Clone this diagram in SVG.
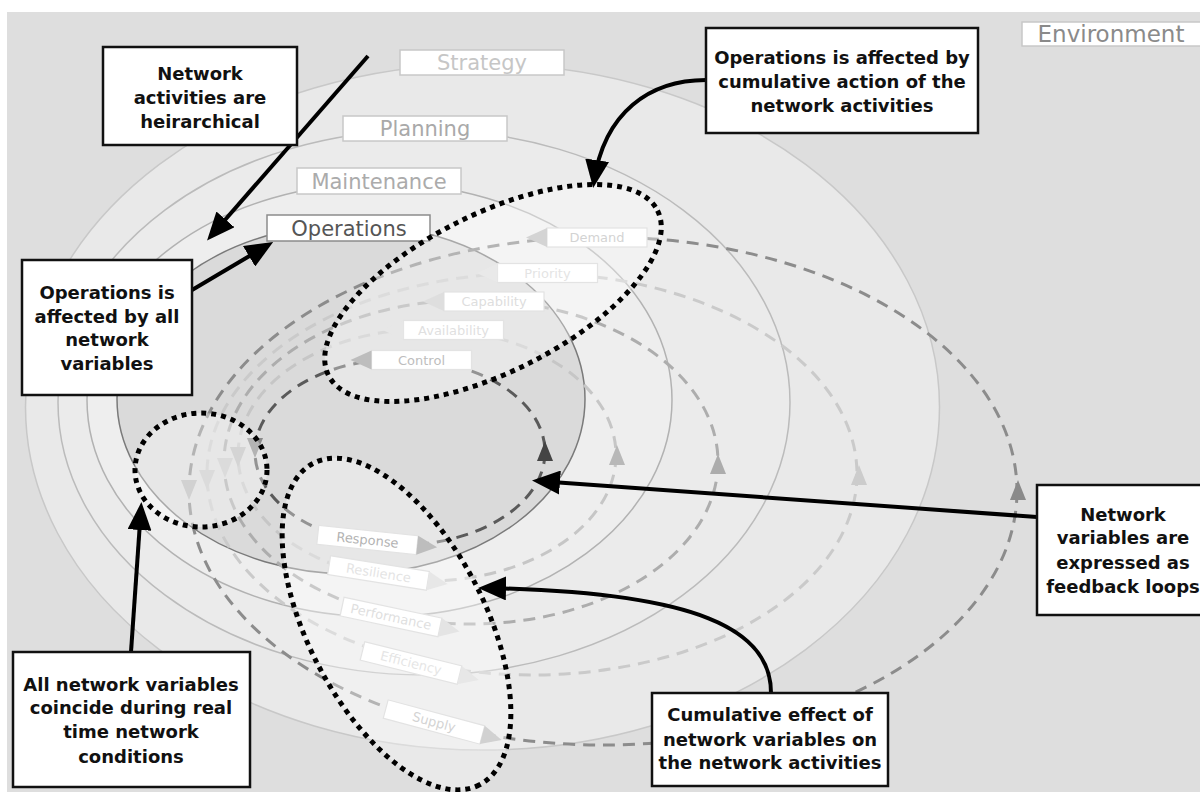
<svg xmlns="http://www.w3.org/2000/svg" width="1200" height="792" viewBox="0 0 1200 792">
  <style>
    .act { stroke-width: 1.5; }
    .actlbl rect { fill: #ffffff; stroke: #c8c8c8; stroke-width: 1.5; }
    .actlbl text { font-family: "DejaVu Sans", "Liberation Sans", sans-serif; font-size: 21px; text-anchor: middle; }
    .loop { fill: none; stroke-width: 3; stroke-dasharray: 12 8; }
    .var rect { fill: #ffffff; stroke: #d4d4d4; stroke-width: 1.2; }
    .var text { font-family: "DejaVu Sans", "Liberation Sans", sans-serif; font-size: 13px; text-anchor: middle; }
    .dotted { fill: #ffffff; fill-opacity: 0.35; stroke: #000000; stroke-width: 5; stroke-dasharray: 5 5; }
    .callout rect { fill: #ffffff; stroke: #111111; stroke-width: 2.5; }
    .callout text { font-family: "DejaVu Sans", "Liberation Sans", sans-serif; font-size: 18px; font-weight: bold; fill: #111111; text-anchor: middle; }
    .pointer { fill: none; stroke: #000000; stroke-width: 4; marker-end: url(#head); }
  </style>
  <defs>
    <marker id="head" markerUnits="userSpaceOnUse" markerWidth="28" markerHeight="24" viewBox="0 0 28 24" refX="22" refY="12" orient="auto">
      <path d="M0,0 L28,12 L0,24 Z" fill="#000000"/>
    </marker>
    <polygon id="tri-up" points="-8,10 8,10 0,-10"/>
    <polygon id="tri-down" points="-8,-10 8,-10 0,10"/>
  </defs>

  <!-- page and environment field -->
  <rect x="0" y="0" width="1200" height="792" fill="#ffffff"/>
  <rect id="environment-field" x="7" y="12" width="1193" height="780" fill="#dedede"/>

  <!-- nested activity layers -->
  <g id="activity-layers">
    <ellipse id="strategy-layer" class="act" cx="482.5" cy="407" rx="457" ry="343" fill="#e9e9e9" stroke="#c8c8c8"/>
    <ellipse id="planning-layer" class="act" cx="424" cy="402.5" rx="366" ry="272.5" fill="#ebebeb" stroke="#bbbbbb"/>
    <ellipse id="maintenance-layer" class="act" cx="379.5" cy="400" rx="292.5" ry="217" fill="#eeeeee" stroke="#b2b2b2"/>
    <ellipse id="operations-layer" class="act" cx="351" cy="399" rx="234" ry="175" fill="#dadada" stroke="#7a7a7a"/>
  </g>

  <!-- feedback loops of the network variables -->
  <g id="connectors">
    <ellipse id="loop-demand-supply" class="loop" cx="603" cy="491" rx="414" ry="254" stroke="#8c8c8c"/>
    <ellipse id="loop-priority-efficiency" class="loop" cx="532" cy="474" rx="325" ry="201" stroke="#cacaca"/>
    <ellipse id="loop-capability-performance" class="loop" cx="471" cy="462" rx="247" ry="162" stroke="#adadad"/>
    <ellipse id="loop-availability-resilience" class="loop" cx="427" cy="455" rx="189" ry="126" stroke="#c6c6c6"/>
    <ellipse id="loop-control-response" class="loop" cx="400" cy="452" rx="145" ry="93" stroke="#5a5a5a"/>

    <!-- upward heads on the right side -->
    <use href="#tri-up" x="545" y="451" fill="#444444"/>
    <use href="#tri-up" x="617" y="455" fill="#b8b8b8"/>
    <use href="#tri-up" x="718" y="464" fill="#acacac"/>
    <use href="#tri-up" x="859" y="475" fill="#cccccc"/>
    <use href="#tri-up" x="1018" y="490" fill="#8a8a8a"/>
    <!-- downward heads on the left side -->
    <use href="#tri-down" x="255" y="448" fill="#8a8a8a"/>
    <use href="#tri-down" x="238" y="457" fill="#bdbdbd"/>
    <use href="#tri-down" x="225" y="468" fill="#c8c8c8"/>
    <use href="#tri-down" x="207" y="480" fill="#c8c8c8"/>
    <use href="#tri-down" x="189" y="490" fill="#b8b8b8"/>
  </g>

  <!-- variable labels on the upper arcs (flow to the left) -->
  <g id="var-demand" class="var" transform="translate(597,237.5)">
    <rect x="-50" y="-9.5" width="100" height="19"/>
    <polygon points="-50,-9.5 -50,9.5 -71,0" fill="#bdbdbd"/>
    <text y="4.5" fill="#bcbcbc">Demand</text>
  </g>
  <g id="var-priority" class="var" transform="translate(547.5,273)">
    <rect x="-50" y="-9.5" width="100" height="19"/>
    <polygon points="-50,-9.5 -50,9.5 -71,0" fill="#dddddd"/>
    <text y="4.5" fill="#d6d6d6">Priority</text>
  </g>
  <g id="var-capability" class="var" transform="translate(494,301.5)">
    <rect x="-50" y="-9.5" width="100" height="19"/>
    <polygon points="-50,-9.5 -50,9.5 -71,0" fill="#cccccc"/>
    <text y="4.5" fill="#cccccc">Capability</text>
  </g>
  <g id="var-availability" class="var" transform="translate(453.5,330)">
    <rect x="-50" y="-9.5" width="100" height="19"/>
    <polygon points="-50,-9.5 -50,9.5 -71,0" fill="#dadada"/>
    <text y="4.5" fill="#d0d0d0">Availability</text>
  </g>
  <g id="var-control" class="var" transform="translate(421.5,360)">
    <rect x="-50" y="-9.5" width="100" height="19"/>
    <polygon points="-50,-9.5 -50,9.5 -71,0" fill="#9a9a9a"/>
    <text y="4.5" fill="#9a9a9a">Control</text>
  </g>

  <!-- variable labels on the lower arcs (flow to the right) -->
  <g id="var-response" class="var" transform="translate(367.5,540) rotate(6)">
    <rect x="-50" y="-9.5" width="100" height="19"/>
    <polygon points="50,-9.5 50,9.5 70,0" fill="#9a9a9a"/>
    <text y="4.5" fill="#8a8a8a">Response</text>
  </g>
  <g id="var-resilience" class="var" transform="translate(378.5,573) rotate(9)">
    <rect x="-50" y="-9.5" width="100" height="19"/>
    <polygon points="50,-9.5 50,9.5 70,0" fill="#dadada"/>
    <text y="4.5" fill="#d6d6d6">Resilience</text>
  </g>
  <g id="var-performance" class="var" transform="translate(391,617) rotate(12)">
    <rect x="-50" y="-9.5" width="100" height="19"/>
    <polygon points="50,-9.5 50,9.5 70,0" fill="#d6d6d6"/>
    <text y="4.5" fill="#cfcfcf">Performance</text>
  </g>
  <g id="var-efficiency" class="var" transform="translate(411,663) rotate(14)">
    <rect x="-50" y="-9.5" width="100" height="19"/>
    <polygon points="50,-9.5 50,9.5 70,0" fill="#dadada"/>
    <text y="4.5" fill="#d8d8d8">Efficiency</text>
  </g>
  <g id="var-supply" class="var" transform="translate(434,722) rotate(15)">
    <rect x="-50" y="-9.5" width="100" height="19"/>
    <polygon points="50,-9.5 50,9.5 70,0" fill="#b8b8b8"/>
    <text y="4.5" fill="#bcbcbc">Supply</text>
  </g>

  <!-- layer name tags -->
  <g id="tag-environment" class="actlbl">
    <rect x="1022" y="22" width="190" height="24" stroke="#b0b0b0"/>
    <text x="1111" y="42" fill="#8a8a8a" style="font-size:23px">Environment</text>
  </g>
  <g id="tag-strategy" class="actlbl">
    <rect x="400" y="50" width="164" height="25"/>
    <text x="482" y="70" fill="#c6c6c6">Strategy</text>
  </g>
  <g id="tag-planning" class="actlbl">
    <rect x="343" y="116" width="164" height="25"/>
    <text x="425" y="136" fill="#a9a9a9">Planning</text>
  </g>
  <g id="tag-maintenance" class="actlbl">
    <rect x="297" y="168" width="164" height="26"/>
    <text x="379" y="189" fill="#ababab">Maintenance</text>
  </g>
  <g id="tag-operations" class="actlbl">
    <rect x="267" y="215" width="163" height="26" style="stroke:#8c8c8c"/>
    <text x="349" y="236" fill="#555555">Operations</text>
  </g>

  <!-- dotted groupings -->
  <g id="group-cumulative-activities">
    <ellipse class="dotted" cx="493" cy="293" rx="184" ry="79" transform="rotate(-26.6 493 293)"/>
  </g>
  <g id="group-coincide">
    <ellipse class="dotted" cx="201" cy="470" rx="66" ry="57"/>
  </g>
  <g id="group-cumulative-variables">
    <ellipse class="dotted" cx="396.5" cy="624" rx="181" ry="88.5" transform="rotate(62.7 396.5 624)"/>
  </g>

  <!-- callout pointers -->
  <g id="pointers">
    <path class="pointer" d="M368,56 L211,236"/>
    <path class="pointer" d="M192,290 L268,245"/>
    <path class="pointer" d="M706,80 C650,80 604,112 594,182"/>
    <path class="pointer" d="M1037,517 L538,481"/>
    <path class="pointer" d="M771,693 C771,630 700,592 484,588"/>
    <path class="pointer" d="M131,652 L141,508"/>
  </g>

  <!-- callouts -->
  <g id="note-hierarchical" class="callout">
    <rect x="103" y="47" width="194" height="98"/>
    <text x="200" y="80">Network</text>
    <text x="200" y="104">activities are</text>
    <text x="200" y="128">heirarchical</text>
  </g>
  <g id="note-all-variables" class="callout">
    <rect x="22" y="260" width="170" height="135"/>
    <text x="107" y="299">Operations is</text>
    <text x="107" y="323">affected by all</text>
    <text x="107" y="346">network</text>
    <text x="107" y="370">variables</text>
  </g>
  <g id="note-cumulative-action" class="callout">
    <rect x="706" y="28" width="272" height="105"/>
    <text x="842" y="64">Operations is affected by</text>
    <text x="842" y="88">cumulative action of the</text>
    <text x="842" y="112">network activities</text>
  </g>
  <g id="note-feedback-loops" class="callout">
    <rect x="1037" y="485" width="180" height="130"/>
    <text x="1123" y="521">Network</text>
    <text x="1123" y="544">variables are</text>
    <text x="1123" y="569">expressed as</text>
    <text x="1123" y="593">feedback loops</text>
  </g>
  <g id="note-cumulative-effect" class="callout">
    <rect x="652" y="693" width="236" height="93"/>
    <text x="770" y="721">Cumulative effect of</text>
    <text x="770" y="746">network variables on</text>
    <text x="770" y="769">the network activities</text>
  </g>
  <g id="note-coincide" class="callout">
    <rect x="13" y="652" width="237" height="135"/>
    <text x="131" y="691">All network variables</text>
    <text x="131" y="714">coincide during real</text>
    <text x="131" y="738">time network</text>
    <text x="131" y="763">conditions</text>
  </g>
</svg>
